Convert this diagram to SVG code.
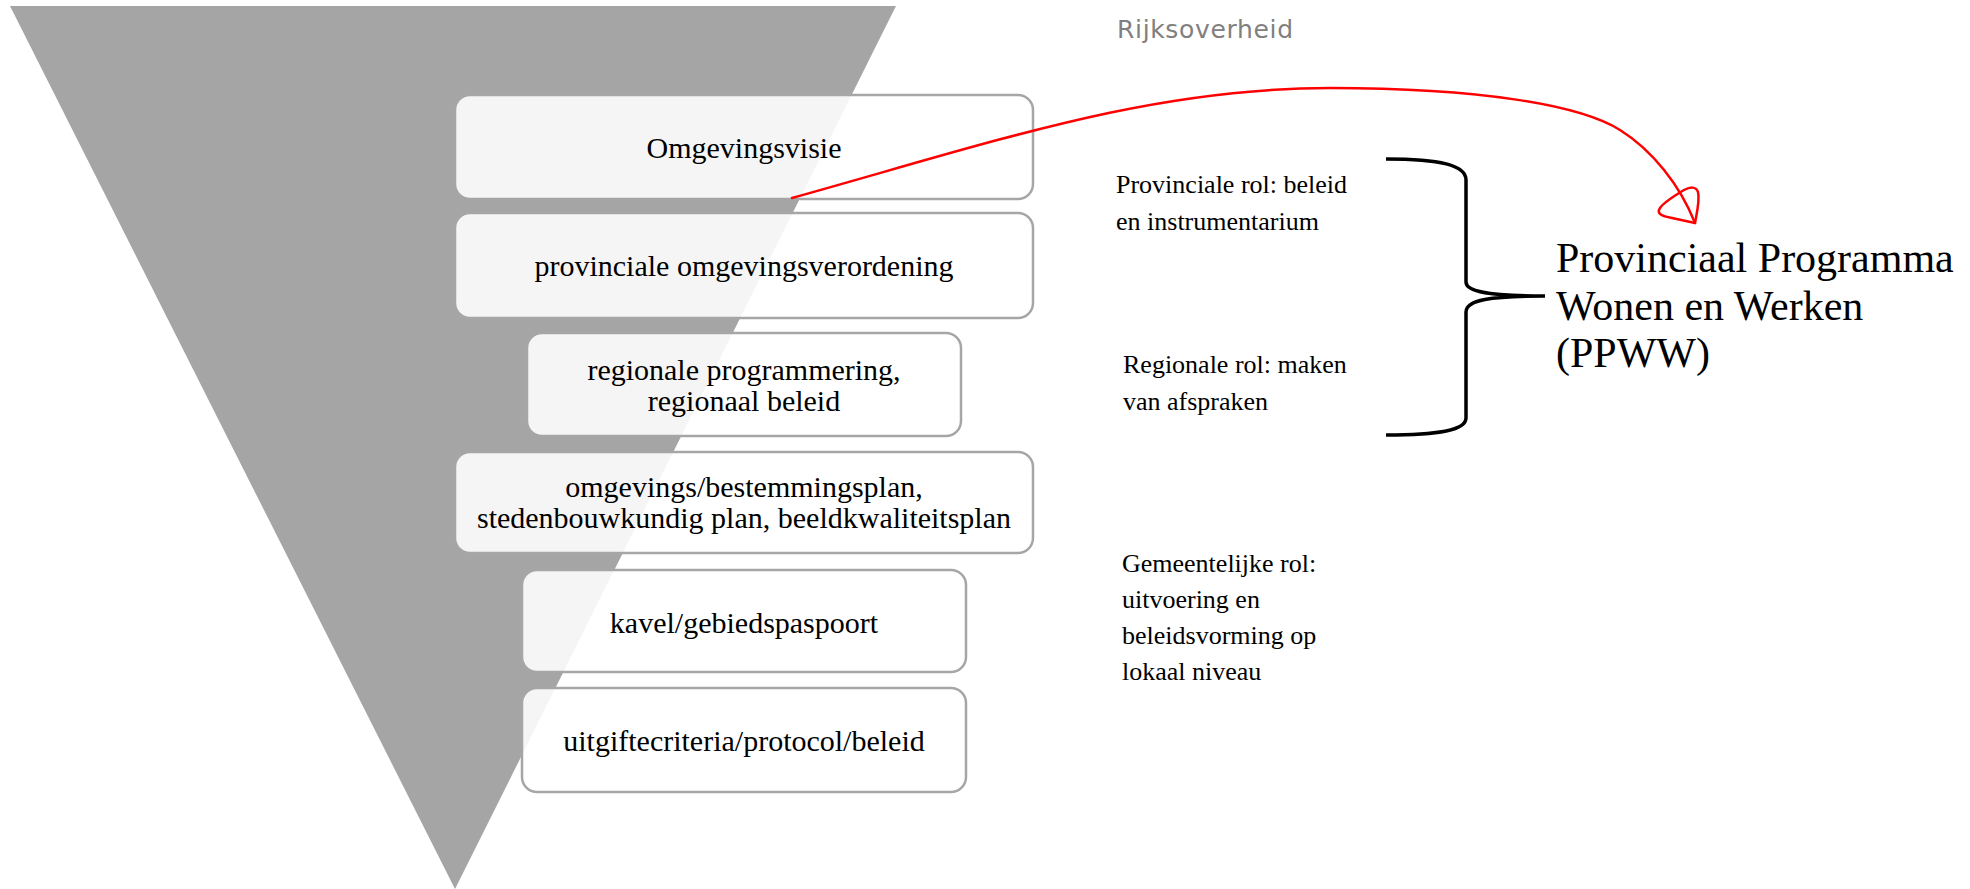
<svg xmlns="http://www.w3.org/2000/svg" width="1970" height="889" viewBox="0 0 1970 889">
  <style>
    .box { fill: #ffffff; fill-opacity: 0.89; stroke: #a6a6a6; stroke-width: 2.5; }
    .bt { font-family: "Liberation Serif", "Times New Roman", serif; font-size: 30px; fill: #000; text-anchor: middle; }
    .rt { font-family: "Liberation Serif", "Times New Roman", serif; font-size: 26px; fill: #000; }
    .big { font-family: "Liberation Serif", "Times New Roman", serif; font-size: 42px; fill: #000; }
    .gov { font-family: "DejaVu Sans", Verdana, sans-serif; font-size: 25px; fill: #808080; }
    .red { fill: none; stroke: #ff0000; stroke-width: 2.5; stroke-linecap: round; stroke-linejoin: round; }
    .brace { fill: none; stroke: #000; stroke-width: 3.5; }
  </style>
  <rect x="0" y="0" width="1970" height="889" fill="#ffffff"/>
  <g id="funnel">
    <polygon points="10,6 896,6 455,889" fill="#a5a5a6"/>
  </g>
  <g id="node-omgevingsvisie">
    <rect class="box" x="455" y="95" width="578" height="104" rx="15"/>
    <text class="bt" x="744" y="158">Omgevingsvisie</text>
  </g>
  <g id="node-verordening">
    <rect class="box" x="455" y="213" width="578" height="105" rx="15"/>
    <text class="bt" x="744" y="276">provinciale omgevingsverordening</text>
  </g>
  <g id="node-regionaal">
    <rect class="box" x="527" y="333" width="434" height="103" rx="15"/>
    <text class="bt" x="744" y="380">regionale programmering,</text>
    <text class="bt" x="744" y="411">regionaal beleid</text>
  </g>
  <g id="node-plannen">
    <rect class="box" x="455" y="452" width="578" height="101" rx="15"/>
    <text class="bt" x="744" y="497">omgevings/bestemmingsplan,</text>
    <text class="bt" x="744" y="528">stedenbouwkundig plan, beeldkwaliteitsplan</text>
  </g>
  <g id="node-kavel">
    <rect class="box" x="522" y="570" width="444" height="102" rx="15"/>
    <text class="bt" x="744" y="633">kavel/gebiedspaspoort</text>
  </g>
  <g id="node-uitgifte">
    <rect class="box" x="522" y="688" width="444" height="104" rx="15"/>
    <text class="bt" x="744" y="751">uitgiftecriteria/protocol/beleid</text>
  </g>
  <g id="label-rijksoverheid">
    <text class="gov" x="1117" y="38" textLength="176">Rijksoverheid</text>
  </g>
  <g id="label-provinciaal">
    <text class="rt" x="1116" y="193">Provinciale rol: beleid</text>
    <text class="rt" x="1116" y="230">en instrumentarium</text>
  </g>
  <g id="label-regionaal">
    <text class="rt" x="1123" y="373">Regionale rol: maken</text>
    <text class="rt" x="1123" y="410">van afspraken</text>
  </g>
  <g id="label-gemeente">
    <text class="rt" x="1122" y="572">Gemeentelijke rol:</text>
    <text class="rt" x="1122" y="608">uitvoering en</text>
    <text class="rt" x="1122" y="644">beleidsvorming op</text>
    <text class="rt" x="1122" y="680">lokaal niveau</text>
  </g>
  <g id="node-ppww">
    <text class="big" x="1556" y="272">Provinciaal Programma</text>
    <text class="big" x="1556" y="320">Wonen en Werken</text>
    <text class="big" x="1556" y="367">(PPWW)</text>
  </g>
  <g id="connectors">
    <path class="brace" d="M1386,159 C1440,159 1466,165 1466,180 L1466,282 C1466,292 1490,296 1545,296 C1490,296 1466,300 1466,312 L1466,418 C1466,430 1440,435 1386,435"/>
    <path class="red" d="M792,198 C1000,140 1150,88 1330,88 C1480,88 1580,105 1620,130 C1652,150 1680,185 1695,223"/>
    <path class="red" d="M1695,223 C1697,212 1700,200 1698,192 C1696,186 1690,187 1684,190 C1674,196 1664,202 1660,208 C1656,214 1662,216 1672,218 Z"/>
  </g>
</svg>
